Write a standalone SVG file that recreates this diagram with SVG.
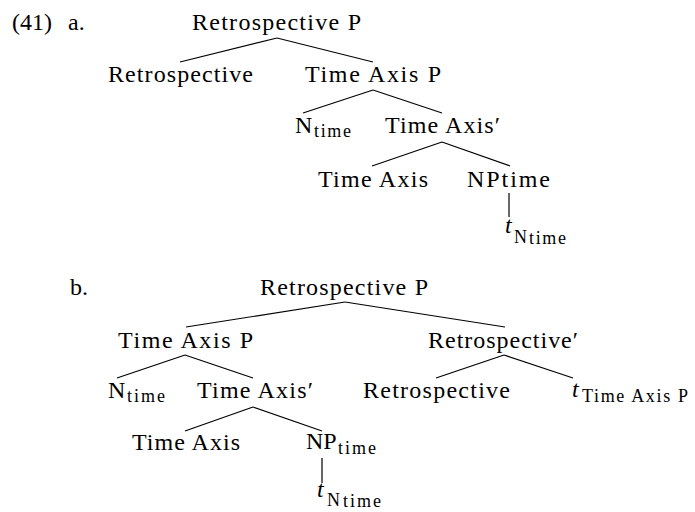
<svg xmlns="http://www.w3.org/2000/svg" width="695" height="512" viewBox="0 0 695 512">
<style>
text{font-family:"Liberation Serif","Times New Roman",serif;fill:#000}
.m{font-size:24px}
.s{font-size:18px}
.i{font-style:italic}
.c line{stroke:#000;stroke-width:1.2}
</style>
<rect width="695" height="512" fill="#fff"/>
<g id="labels">
<text class="m" x="12" y="30">(41)</text>
<text class="m" x="68" y="30">a.</text>
<text class="m" x="70" y="295">b.</text>
</g>
<g id="a-root"><text class="m" x="192" y="30" textLength="169" lengthAdjust="spacing">Retrospective P</text></g>
<g id="a-retro"><text class="m" x="108" y="82" textLength="145" lengthAdjust="spacing">Retrospective</text></g>
<g id="a-taxp"><text class="m" x="305" y="82" textLength="136" lengthAdjust="spacing">Time Axis P</text></g>
<g id="a-ntime"><text class="m" x="295" y="133">N</text><text class="s" x="314" y="137" textLength="37" lengthAdjust="spacing">time</text></g>
<g id="a-taxbar"><text class="m" x="385" y="133" textLength="115" lengthAdjust="spacing">Time Axis′</text></g>
<g id="a-tax"><text class="m" x="318" y="187" textLength="110" lengthAdjust="spacing">Time Axis</text></g>
<g id="a-nptime"><text class="m" x="467" y="187" textLength="83" lengthAdjust="spacing">NPtime</text></g>
<g id="a-trace"><text class="m i" x="505" y="233">t</text><text class="s" x="514" y="243">N</text><text class="s" x="529" y="244" textLength="37" lengthAdjust="spacing">time</text></g>

<g id="b-root"><text class="m" x="260" y="295" textLength="168" lengthAdjust="spacing">Retrospective P</text></g>
<g id="b-taxp"><text class="m" x="118" y="348" textLength="135" lengthAdjust="spacing">Time Axis P</text></g>
<g id="b-retrobar"><text class="m" x="428" y="348" textLength="150" lengthAdjust="spacing">Retrospective′</text></g>
<g id="b-ntime"><text class="m" x="108" y="398">N</text><text class="s" x="127" y="402" textLength="38" lengthAdjust="spacing">time</text></g>
<g id="b-taxbar"><text class="m" x="197" y="398" textLength="116" lengthAdjust="spacing">Time Axis′</text></g>
<g id="b-retro"><text class="m" x="363" y="398" textLength="147" lengthAdjust="spacing">Retrospective</text></g>
<g id="b-trace2"><text class="m i" x="572" y="397">t</text><text class="s" x="582" y="402" textLength="106" lengthAdjust="spacing">Time Axis P</text></g>
<g id="b-tax"><text class="m" x="132" y="450" textLength="108" lengthAdjust="spacing">Time Axis</text></g>
<g id="b-nptime"><text class="m" x="306" y="449">NP</text><text class="s" x="338" y="454" textLength="38" lengthAdjust="spacing">time</text></g>
<g id="b-trace"><text class="m i" x="317" y="497">t</text><text class="s" x="327" y="506">N</text><text class="s" x="343" y="507" textLength="38" lengthAdjust="spacing">time</text></g>

<g id="connectors" class="c">
<line x1="277" y1="38" x2="180" y2="62"/>
<line x1="277" y1="38" x2="373" y2="62"/>
<line x1="373" y1="90" x2="303" y2="113"/>
<line x1="373" y1="90" x2="442" y2="113"/>
<line x1="442" y1="142" x2="372" y2="166"/>
<line x1="442" y1="142" x2="510" y2="166"/>
<line x1="509" y1="193" x2="509" y2="217"/>
<line x1="345" y1="302" x2="186" y2="327"/>
<line x1="345" y1="302" x2="505" y2="327"/>
<line x1="185" y1="355" x2="117" y2="378"/>
<line x1="185" y1="355" x2="253" y2="378"/>
<line x1="504" y1="355" x2="436" y2="378"/>
<line x1="504" y1="355" x2="573" y2="378"/>
<line x1="253" y1="407" x2="185" y2="431"/>
<line x1="253" y1="407" x2="322" y2="431"/>
<line x1="322" y1="458" x2="322" y2="483"/>
</g>
</svg>
